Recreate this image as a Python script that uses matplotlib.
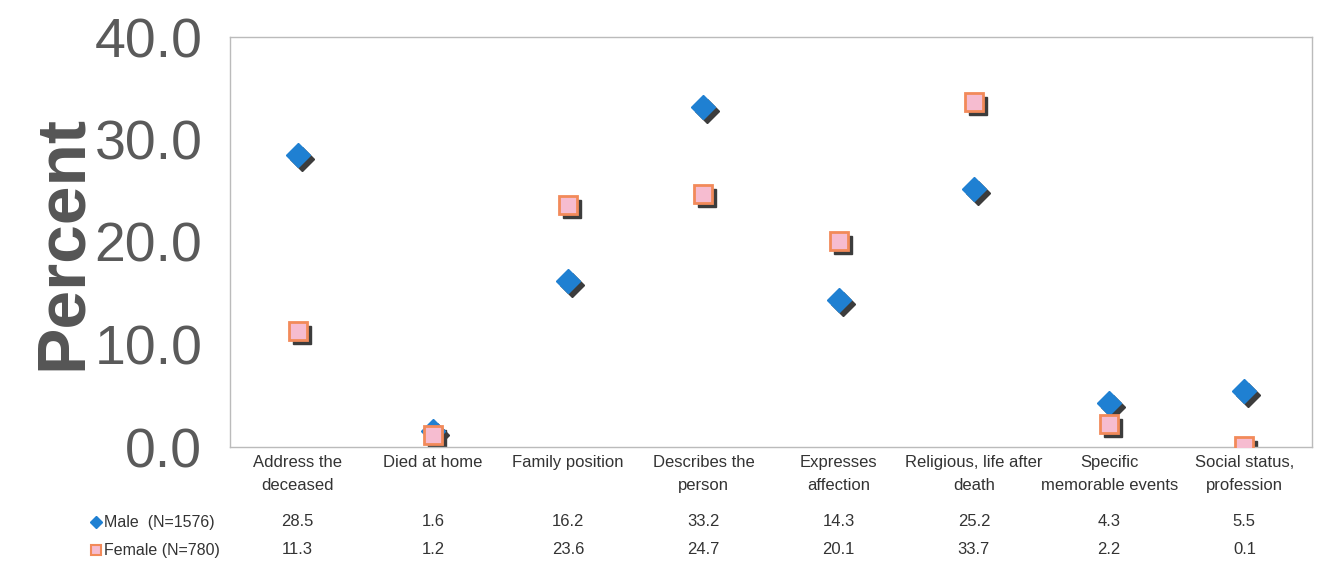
import matplotlib.pyplot as plt
import matplotlib.transforms as mtransforms

categories = ['Address the\ndeceased', 'Died at home', 'Family position', 'Describes the\nperson',
              'Expresses\naffection', 'Religious, life after\ndeath', 'Specific\nmemorable events',
              'Social status,\nprofession']
male = [28.5, 1.6, 16.2, 33.2, 14.3, 25.2, 4.3, 5.5]
female = [11.3, 1.2, 23.6, 24.7, 20.1, 33.7, 2.2, 0.1]
male_label = 'Male  (N=1576)'
female_label = 'Female (N=780)'
yticks = [0, 10, 20, 30, 40]

plt.rcParams['font.family'] = ['Liberation Sans', 'DejaVu Sans']

fig = plt.figure(figsize=(13.19, 5.68), dpi=100)
ax = fig.add_axes([230 / 1319, 1 - 447 / 568, 1082 / 1319, 410 / 568])

x = list(range(len(categories)))
shadow = mtransforms.offset_copy(ax.transData, fig=fig, x=4, y=-4, units='dots')

ax.plot(x, male, 'D', ms=12, color='#3c3c3c', transform=shadow, zorder=2)
ax.plot(x, male, 'D', ms=12, color='#1f80d2', mec='#1f80d2', zorder=3)
ax.plot(x, female, 's', ms=13, color='#3c3c3c', transform=shadow, zorder=2)
ax.plot(x, female, 's', ms=13, mfc='#f6bcd0', mec='#f28a5a', mew=2, zorder=3)

ax.set_xlim(-0.5, len(categories) - 0.5)
ax.set_ylim(0, 40)
ax.set_yticks(yticks)
ax.set_yticklabels(['%.1f' % v for v in yticks], fontsize=40, color='#5a5a5a')
ax.tick_params(axis='y', length=0, pad=20)
ax.set_xticks(x)
ax.set_xticklabels(categories, fontsize=12, color='#333333', linespacing=1.6)
ax.tick_params(axis='x', length=0, pad=6)
ax.set_ylabel('Percent', fontsize=50, fontweight='bold', color='#555555')
ax.yaxis.set_label_coords(-135 / 1082, 0.5)
for s in ax.spines.values():
    s.set_color('#bbbbbb')
    s.set_linewidth(1)

trans = mtransforms.blended_transform_factory(ax.transData, fig.transFigure)
for i in x:
    ax.text(i, 1 - 522 / 568, '%.1f' % male[i], transform=trans, ha='center', va='center',
            fontsize=12, color='#333333')
    ax.text(i, 1 - 550 / 568, '%.1f' % female[i], transform=trans, ha='center', va='center',
            fontsize=12, color='#333333')

fig.add_artist(plt.Line2D([96 / 1319], [1 - 522 / 568], marker='D', ms=6, color='#1f80d2',
                          transform=fig.transFigure))
fig.text(104 / 1319, 1 - 522 / 568, male_label, fontsize=11.5, color='#333333', va='center')
fig.add_artist(plt.Line2D([96 / 1319], [1 - 550 / 568], marker='s', ms=7, mfc='#f6bcd0',
                          mec='#f28a5a', mew=1.5, transform=fig.transFigure))
fig.text(104 / 1319, 1 - 550 / 568, female_label, fontsize=11.5, color='#333333', va='center')

fig.savefig('out.png', dpi=100)
